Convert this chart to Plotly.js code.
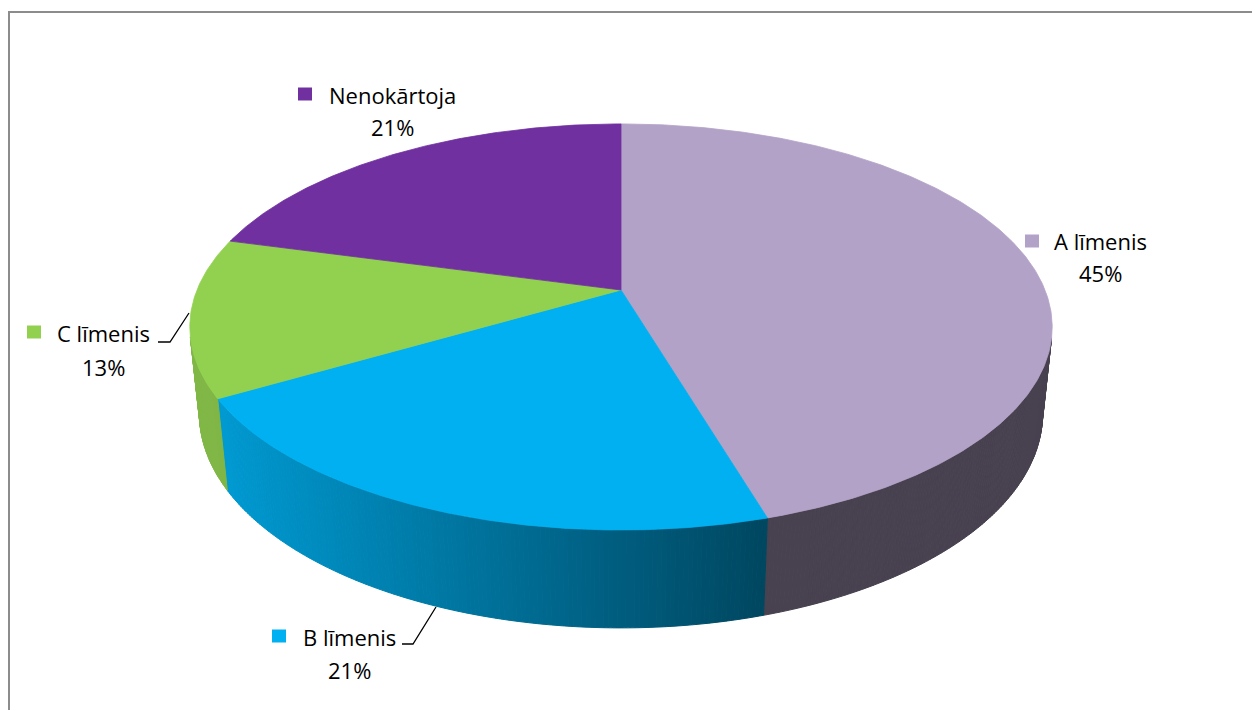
<!DOCTYPE html>
<html>
<head>
<meta charset="utf-8">
<script src="https://cdn.plot.ly/plotly-3.0.1.min.js"></script>
<style>html,body{margin:0;padding:0;background:#fff;}#chart{width:1252px;height:710px;}</style>
</head>
<body>
<div id="chart"></div>
<script>
// ---- data ----
const categories = ["A līmenis", "B līmenis", "C līmenis", "Nenokārtoja"];
const values = [45.4, 21.2, 12.6, 20.8];
const topColors = ["#B3A2C7", "#00B0F0", "#92D050", "#7030A0"];

// ---- 3D pie projection (geometry / style) ----
const CX = 621, CY = 290, K = 424;
const SIN_A = 0.463, COS_A = Math.sqrt(1 - SIN_A * SIN_A);
const DIST = 4.87, THICK = 0.233;

function proj(X, Y, z) {
  const w = Y * COS_A + z * SIN_A;
  const up = -Y * SIN_A + z * COS_A;
  const s = DIST / (DIST - w);
  return [CX + K * X * s, CY - K * up * s];
}
function rim(thetaDeg, z) {
  const t = thetaDeg * Math.PI / 180;
  return proj(Math.sin(t), -Math.cos(t), z);
}
function hexToRgb(h) {
  return [parseInt(h.slice(1, 3), 16), parseInt(h.slice(3, 5), 16), parseInt(h.slice(5, 7), 16)];
}
function shade(hex, f) {
  const c = hexToRgb(hex).map(v => Math.round(Math.min(255, v * f)));
  return "rgb(" + c.join(",") + ")";
}

const total = values.reduce((a, b) => a + b, 0);
const starts = [];
let acc = 0;
values.forEach(v => { starts.push(acc / total * 360); acc += v; });
const ends = starts.map((s, i) => s + values[i] / total * 360);

const traces = [];
const visLimit = 1 / (DIST * COS_A);

// side walls (only the part facing the viewer)
categories.forEach((cat, i) => {
  const step = 0.5;
  for (let a = starts[i]; a < ends[i] - 1e-9; a += step) {
    const b = Math.min(a + step, ends[i]);
    const mid = (a + b) / 2;
    const Ymid = -Math.cos(mid * Math.PI / 180);
    if (Ymid <= visLimit) continue;
    const p1 = rim(a, 0), p2 = rim(b, 0), p3 = rim(b, -THICK), p4 = rim(a, -THICK);
    const xm = (p1[0] + p2[0]) / 2;
    let f = 0.87 - 0.47 * (xm - 220) / 547;
    f = Math.max(0.40, Math.min(0.88, f));
    const col = shade(topColors[i], f);
    traces.push({
      type: "scatter", mode: "lines", fill: "toself",
      x: [p1[0], p2[0], p3[0], p4[0], p1[0]],
      y: [p1[1], p2[1], p3[1], p4[1], p1[1]],
      fillcolor: col, line: {color: col, width: 1},
      hoverinfo: "skip", showlegend: false
    });
  }
});

// top faces
categories.forEach((cat, i) => {
  const c = proj(0, 0, 0);
  const xs = [c[0]], ys = [c[1]];
  const n = Math.max(2, Math.ceil((ends[i] - starts[i]) / 0.5));
  for (let k = 0; k <= n; k++) {
    const a = starts[i] + (ends[i] - starts[i]) * k / n;
    const p = rim(a, 0);
    xs.push(p[0]); ys.push(p[1]);
  }
  xs.push(c[0]); ys.push(c[1]);
  traces.push({
    type: "scatter", mode: "lines", fill: "toself", name: cat,
    x: xs, y: ys, fillcolor: topColors[i],
    line: {color: topColors[i], width: 0.8},
    hoverinfo: "skip", showlegend: false
  });
});

// ---- labels ----
const font = {family: "Open Sans", size: 22, color: "#000000"};
const labelPos = [
  {x: 1100, y1: 241, y2: 273, sq: [1032, 241]},
  {x: 349, y1: 637, y2: 670, sq: [279, 636]},
  {x: 103, y1: 333, y2: 367, sq: [34, 332]},
  {x: 392, y1: 95, y2: 127, sq: [305, 94]}
];
const annotations = [];
const shapes = [];
categories.forEach((cat, i) => {
  const L = labelPos[i];
  annotations.push({x: L.x, y: L.y1, xref: "x", yref: "y", text: cat, showarrow: false,
    font: font, xanchor: "center", yanchor: "middle"});
  annotations.push({x: L.x, y: L.y2, xref: "x", yref: "y",
    text: Math.round(values[i] / total * 100) + "%", showarrow: false,
    font: font, xanchor: "center", yanchor: "middle"});
  shapes.push({type: "rect", xref: "x", yref: "y",
    x0: L.sq[0] - 7, x1: L.sq[0] + 7, y0: L.sq[1] - 6.5, y1: L.sq[1] + 6.5,
    fillcolor: topColors[i], line: {width: 0}});
});
// leader lines
shapes.push({type: "path", xref: "x", yref: "y", path: "M158,342 L170,342 L189,313",
  line: {color: "#000000", width: 1.3}});
shapes.push({type: "path", xref: "x", yref: "y", path: "M402,644 L413,644 L436,607",
  line: {color: "#000000", width: 1.3}});
// chart area border (left and top)
shapes.push({type: "path", xref: "x", yref: "y", path: "M9,712 L9,12 L1254,12",
  line: {color: "#8C8C8C", width: 2}});

const layout = {
  width: 1252, height: 710,
  margin: {l: 0, r: 0, t: 0, b: 0},
  paper_bgcolor: "#ffffff", plot_bgcolor: "#ffffff",
  showlegend: false,
  xaxis: {range: [0, 1252], visible: false, fixedrange: true},
  yaxis: {range: [710, 0], visible: false, fixedrange: true},
  annotations: annotations,
  shapes: shapes
};
Plotly.newPlot("chart", traces, layout, {staticPlot: true, displayModeBar: false});
</script>
</body>
</html>
